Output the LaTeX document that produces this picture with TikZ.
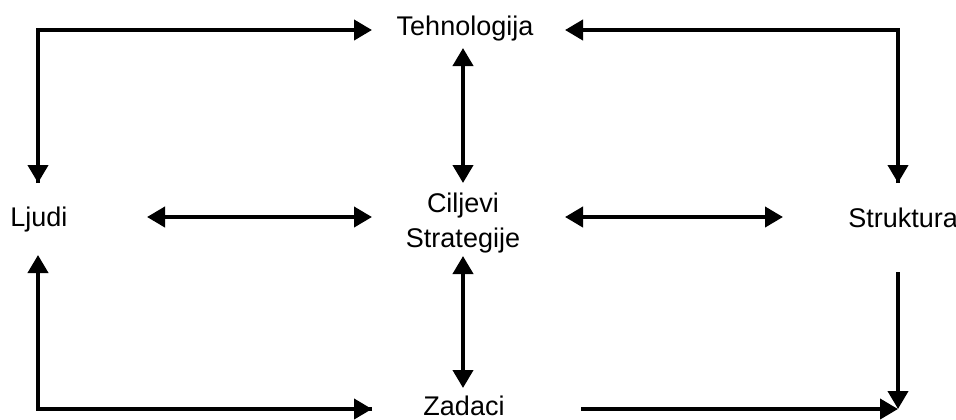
\documentclass[tikz,border=0pt]{standalone}
\usepackage{fontspec}
\setmainfont{Liberation Sans}
\usetikzlibrary{arrows.meta}
\begin{document}
\begin{tikzpicture}[x=0.5pt,y=-0.5pt,
  lbl/.style={inner sep=0pt,anchor=base,font=\fontsize{13.5}{17.5}\selectfont},
  conn/.style={line width=2pt,line join=miter,-{Triangle[length=9pt,width=10pt]}},
  biconn/.style={line width=2pt,{Triangle[length=9pt,width=10pt]}-{Triangle[length=9pt,width=10pt]}}]
\useasboundingbox (0,0) rectangle (956,419);
% labels
\node[lbl] (teh) at (465,35) {Tehnologija};
\node[lbl,anchor=base west] (lju) at (10,226) {Ljudi};
\node[lbl,anchor=base west] (str) at (848,227) {Struktura};
\node[lbl] (zad) at (464,415) {Zadaci};
\node[lbl] (cil) at (463,212) {Ciljevi};
\node[lbl] (stg) at (463,247) {Strategije};
% connector ends
\coordinate (tl) at (38,30);
\coordinate (tlA) at (372,30);
\coordinate (tlB) at (38,183);
\coordinate (tr) at (898,30);
\coordinate (trA) at (565,30);
\coordinate (trB) at (898,183);
\coordinate (bl) at (38,409);
\coordinate (blA) at (38,255);
\coordinate (blB) at (372,409);
\coordinate (brS) at (581,409);
\coordinate (brT) at (898,409);
\coordinate (brV) at (898,272);
\coordinate (cT1) at (463,48);
\coordinate (cT2) at (463,183);
\coordinate (cB1) at (463,256);
\coordinate (cB2) at (463,388);
\coordinate (hL1) at (147,217);
\coordinate (hL2) at (372,217);
\coordinate (hR1) at (565,217);
\coordinate (hR2) at (783,217);
% connectors
\draw[conn] (tlB) -- (tl) -- (tlA);
\draw[conn] (trB) -- (tr) -- (trA);
\draw[conn] (tr) -- (trB);
\draw[conn] (tl) -- (tlB);
\draw[conn] (blB) -- (bl) -- (blA);
\draw[conn] (bl) -- (blB);
\draw[conn] (brS) -- (brT);
\draw[conn] (brV) -- (brT);
\draw[biconn] (cT1) -- (cT2);
\draw[biconn] (cB1) -- (cB2);
\draw[biconn] (hL1) -- (hL2);
\draw[biconn] (hR1) -- (hR2);
\end{tikzpicture}
\end{document}
